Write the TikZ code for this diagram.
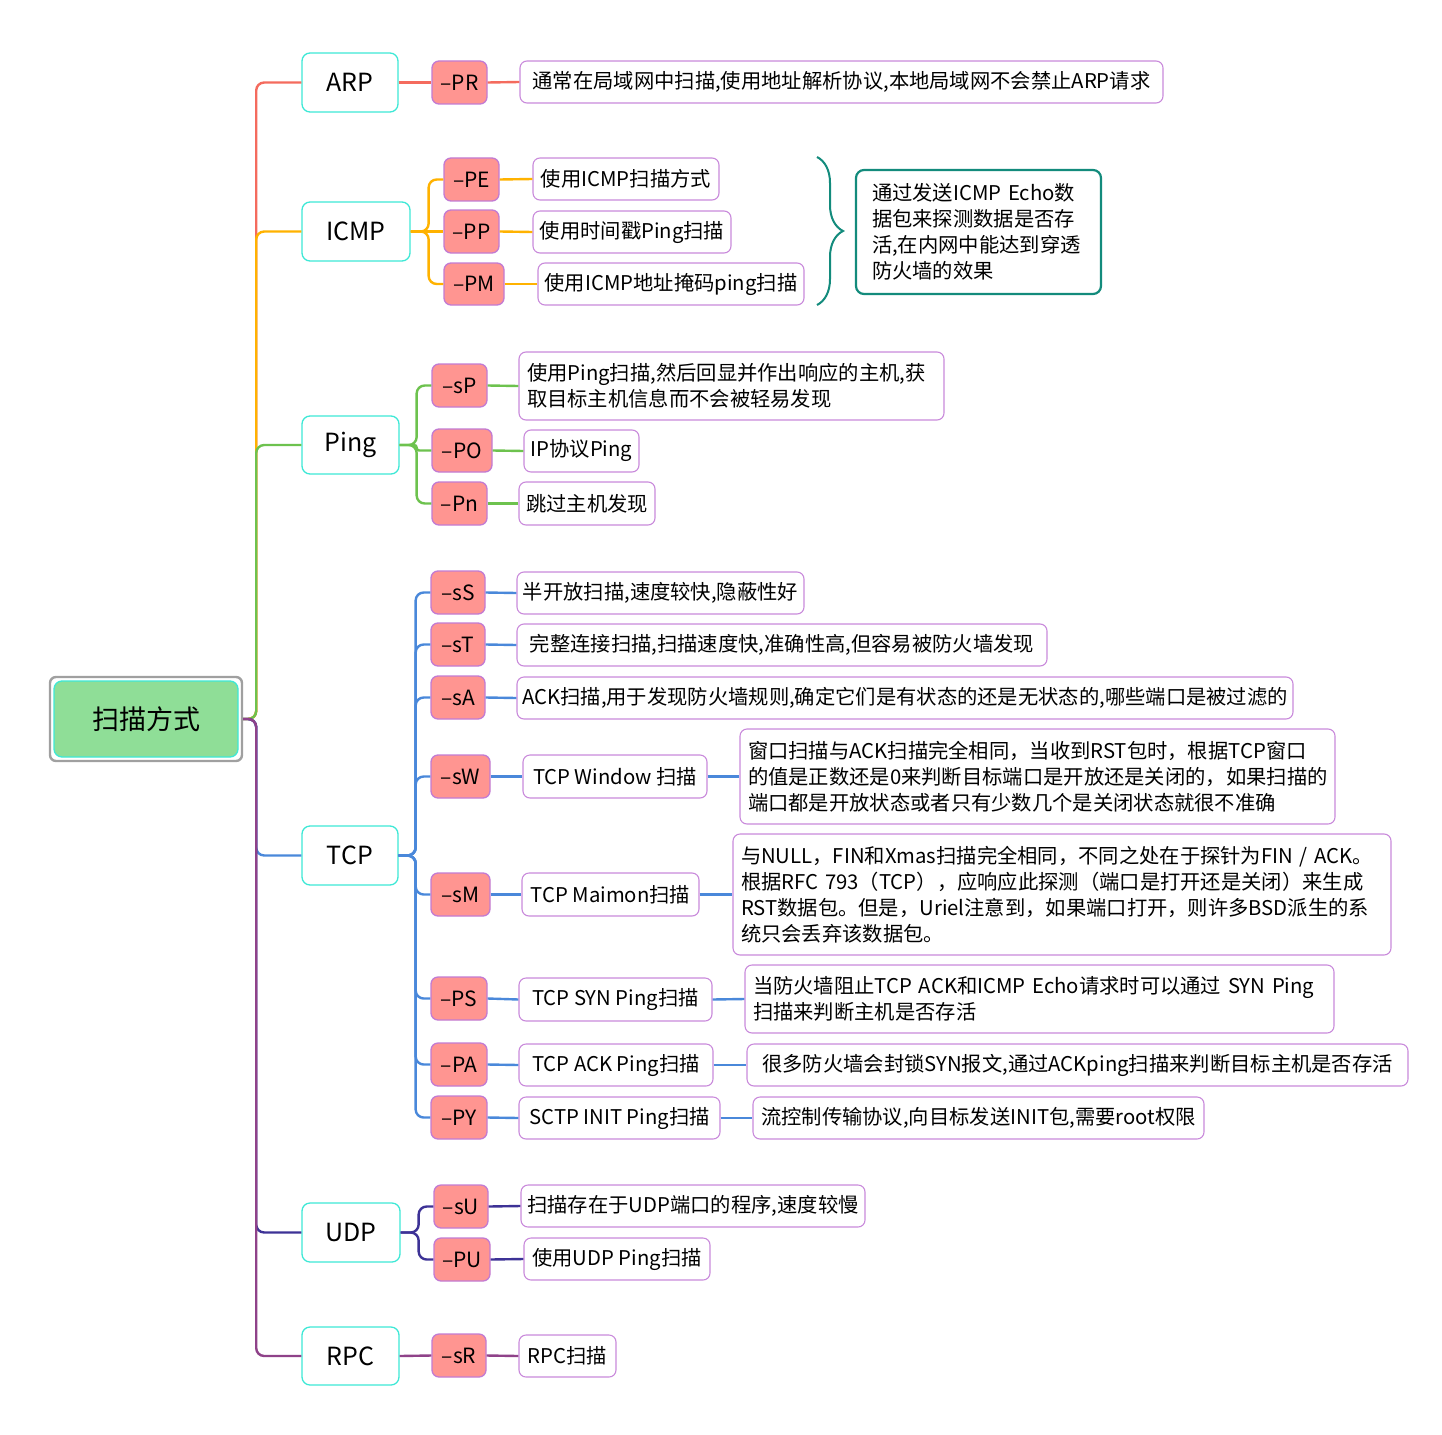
\documentclass[tikz,border=0pt]{standalone}
\usepackage{fontspec}
\setmainfont{Noto Sans CJK SC}
\usetikzlibrary{decorations.pathreplacing}

\definecolor{arpc}{HTML}{F46B5E}
\definecolor{icmpc}{HTML}{FFB200}
\definecolor{pingc}{HTML}{6DC24E}
\definecolor{tcpc}{HTML}{4A88DA}
\definecolor{udpc}{HTML}{3D3296}
\definecolor{rpcc}{HTML}{8F4289}
\definecolor{topicline}{HTML}{3EE8D6}
\definecolor{optfill}{HTML}{FF9591}
\definecolor{optline}{HTML}{C27BD3}
\definecolor{descline}{HTML}{C98ADB}
\definecolor{rootfill}{HTML}{8FDE97}
\definecolor{rootframe}{HTML}{A0A0A0}
\definecolor{sumline}{HTML}{138B7C}

\begin{document}
\begin{tikzpicture}[x=1pt,y=-1pt,
  rootouter/.style={draw=rootframe, line width=2.4pt, rounded corners=6pt},
  rootnode/.style={draw=topicline, fill=rootfill, line width=1.3pt, rounded corners=8pt,
    font=\fontsize{27}{32}\selectfont},
  topic/.style={draw=topicline, fill=white, line width=1.3pt, rounded corners=8pt,
    inner sep=0pt, font=\fontsize{25}{30}\selectfont},
  opt/.style={draw=optline, fill=optfill, line width=1.3pt, rounded corners=7pt,
    inner sep=0pt, font=\fontsize{21}{25}\selectfont},
  desc/.style={draw=descline, fill=white, line width=1.1pt, rounded corners=7pt,
    inner xsep=4pt, inner ysep=0pt, font=\fontsize{20.3}{26}\selectfont},
  mdesc/.style={desc, align=left, inner xsep=8pt},
  summary/.style={draw=sumline, fill=white, line width=2.2pt, rounded corners=8pt,
    align=left, inner xsep=16pt, font=\fontsize{20.3}{26}\selectfont},
  link/.style={line width=2.4pt, rounded corners=8pt},
  bracket/.style={draw=sumline, line width=2pt, decorate,
    decoration={brace, amplitude=26pt}}
]
\useasboundingbox (0,0) rectangle (1442,1434);

% central topic
\node[rootouter, minimum width=192, minimum height=84] (rootbox) at (146,719) {};
\node[rootnode, minimum width=184, minimum height=76] (root) at (146,719) {扫描方式};

% first-level topics
\node[topic, minimum width=96,  minimum height=59] (arp)  at (350,82.5)   {ARP};
\node[topic, minimum width=108, minimum height=59] (icmp) at (356,231.5)  {ICMP};
\node[topic, minimum width=97,  minimum height=58] (ping) at (350.5,445)  {Ping};
\node[topic, minimum width=96,  minimum height=59] (tcp)  at (350,855.5)  {TCP};
\node[topic, minimum width=98,  minimum height=59] (udp)  at (351,1232.5) {UDP};
\node[topic, minimum width=97,  minimum height=58] (rpc)  at (350.5,1356) {RPC};

% options
\node[opt, minimum width=55, minimum height=43] (oPR) at (459.5,82.5)  {–PR};
\node[opt, minimum width=55, minimum height=43] (oPE) at (471.5,179.5) {–PE};
\node[opt, minimum width=55, minimum height=43] (oPP) at (471.5,231.5) {–PP};
\node[opt, minimum width=60, minimum height=42] (oPM) at (474,284)     {–PM};
\node[opt, minimum width=55, minimum height=43] (osP) at (459.5,385.5) {–sP};
\node[opt, minimum width=60, minimum height=43] (oPO) at (462,450.5)   {–PO};
\node[opt, minimum width=55, minimum height=43] (oPn) at (459.5,503.5) {–Pn};
\node[opt, minimum width=54, minimum height=43] (osS) at (458,592.5)   {–sS};
\node[opt, minimum width=54, minimum height=43] (osT) at (458,644.5)   {–sT};
\node[opt, minimum width=54, minimum height=43] (osA) at (458,697.5)   {–sA};
\node[opt, minimum width=59, minimum height=43] (osW) at (460.5,776.5) {–sW};
\node[opt, minimum width=59, minimum height=43] (osM) at (460.5,894.5) {–sM};
\node[opt, minimum width=56, minimum height=43] (oPS) at (459,998.5)   {–PS};
\node[opt, minimum width=56, minimum height=43] (oPA) at (459,1064.5)  {–PA};
\node[opt, minimum width=56, minimum height=43] (oPY) at (459,1117.5)  {–PY};
\node[opt, minimum width=54, minimum height=43] (osU) at (461,1206.5)  {–sU};
\node[opt, minimum width=56, minimum height=43] (oPU) at (462,1259.5)  {–PU};
\node[opt, minimum width=54, minimum height=43] (osR) at (459,1355.5)  {–sR};

% descriptions
\node[desc, minimum width=643, minimum height=42] (dPR) at (841.5,82) {通常在局域网中扫描,使用地址解析协议,本地局域网不会禁止ARP请求};
\node[desc, minimum width=186, minimum height=42] (dPE) at (626,179) {使用ICMP扫描方式};
\node[desc, minimum width=198, minimum height=42] (dPP) at (632,232) {使用时间戳Ping扫描};
\node[desc, minimum width=266, minimum height=42] (dPM) at (671,284) {使用ICMP地址掩码ping扫描};
\node[summary, text width=213, minimum height=124] (sum) at (978.5,232)
  {通过发送ICMP Echo数\\据包来探测数据是否存\\活,在内网中能达到穿透\\防火墙的效果};
\node[mdesc, text width=409, minimum height=68] (dsP) at (731.5,386)
  {使用Ping扫描,然后回显并作出响应的主机,获\\取目标主机信息而不会被轻易发现};
\node[desc, minimum width=115, minimum height=42] (dPO) at (581.5,451) {IP协议Ping};
\node[desc, minimum width=136, minimum height=43] (dPn) at (587,503.5) {跳过主机发现};
\node[desc, minimum width=287, minimum height=42] (dsS) at (660.5,593) {半开放扫描,速度较快,隐蔽性好};
\node[desc, minimum width=530, minimum height=42] (dsT) at (782,645) {完整连接扫描,扫描速度快,准确性高,但容易被防火墙发现};
\node[desc, minimum width=776, minimum height=42] (dsA) at (905,698) {ACK扫描,用于发现防火墙规则,确定它们是有状态的还是无状态的,哪些端口是被过滤的};
\node[desc, minimum width=184, minimum height=43] (mW) at (615,776.5) {TCP Window 扫描};
\node[mdesc, text width=579, minimum height=95] (dW) at (1037.5,776.5)
  {窗口扫描与ACK扫描完全相同，当收到RST包时，根据TCP窗口\\的值是正数还是0来判断目标端口是开放还是关闭的，如果扫描的\\端口都是开放状态或者只有少数几个是关闭状态就很不准确};
\node[desc, minimum width=177, minimum height=43] (mM) at (610.5,894.5) {TCP Maimon扫描};
\node[mdesc, text width=642, minimum height=121] (dM) at (1062,894.5)
  {与NULL，FIN和Xmas扫描完全相同，不同之处在于探针为FIN / ACK。\\根据RFC 793（TCP），应响应此探测（端口是打开还是关闭）来生成\\RST数据包。但是，Uriel注意到，如果端口打开，则许多BSD派生的系\\统只会丢弃该数据包。};
\node[desc, minimum width=193, minimum height=43] (mS) at (615.5,999.5) {TCP SYN Ping扫描};
\node[mdesc, text width=573, minimum height=68] (dS) at (1039.5,999)
  {当防火墙阻止TCP ACK和ICMP Echo请求时可以通过 SYN Ping\\扫描来判断主机是否存活};
\node[desc, minimum width=194, minimum height=42] (mA) at (616,1065) {TCP ACK Ping扫描};
\node[desc, minimum width=661, minimum height=42] (dA) at (1077.5,1065) {很多防火墙会封锁SYN报文,通过ACKping扫描来判断目标主机是否存活};
\node[desc, minimum width=201, minimum height=42] (mY) at (619.5,1118) {SCTP INIT Ping扫描};
\node[desc, minimum width=451, minimum height=42] (dY) at (978.5,1118) {流控制传输协议,向目标发送INIT包,需要root权限};
\node[desc, minimum width=344, minimum height=42] (dsU) at (693,1206) {扫描存在于UDP端口的程序,速度较慢};
\node[desc, minimum width=186, minimum height=42] (dPU) at (617,1259) {使用UDP Ping扫描};
\node[desc, minimum width=97,  minimum height=42] (dsR) at (567.5,1356) {RPC扫描};

% summary bracket over the ICMP options
\coordinate (brtop) at (817,157);
\coordinate (brbot) at (817,305);
\draw[bracket] (brtop) -- (brbot);

% trunk: central topic to first-level topics
\draw[link, arpc]  (rootbox.east) -- ++(13,0) |- (arp.west);
\draw[link, icmpc] (rootbox.east) -- ++(13,0) |- (icmp.west);
\draw[link, pingc] (rootbox.east) -- ++(13,0) |- (ping.west);
\draw[link, tcpc]  (rootbox.east) -- ++(13,0) |- (tcp.west);
\draw[link, udpc]  (rootbox.east) -- ++(13,0) |- (udp.west);
\draw[link, rpcc]  (rootbox.east) -- ++(13,0) |- (rpc.west);

% ARP branch
\draw[link, arpc] (arp.east) -- (oPR.west);
\draw[link, arpc] (oPR.east) -- (dPR.west);

% ICMP branch (third value: corner radius, small where the step is short)
\foreach \o/\d/\r in {oPE/dPE/8, oPP/dPP/0, oPM/dPM/8} {
  \draw[link, icmpc, rounded corners=\r pt] (icmp.east) -- ++(18,0) |- (\o.west);
  \draw[link, icmpc] (\o.east) -- (\d.west);
}

% Ping branch
\foreach \o/\d/\r in {osP/dsP/8, oPO/dPO/2.5, oPn/dPn/8} {
  \draw[link, pingc, rounded corners=\r pt] (ping.east) -- ++(17,0) |- (\o.west);
  \draw[link, pingc] (\o.east) -- (\d.west);
}

% TCP branch
\foreach \o/\d in {osS/dsS, osT/dsT, osA/dsA, osW/mW, osM/mM, oPS/mS, oPA/mA, oPY/mY} {
  \draw[link, tcpc] (tcp.east) -- ++(17,0) |- (\o.west);
  \draw[link, tcpc] (\o.east) -- (\d.west);
}
\foreach \m/\d in {mW/dW, mM/dM, mS/dS, mA/dA, mY/dY} {
  \draw[link, tcpc] (\m.east) -- (\d.west);
}

% UDP branch
\foreach \o/\d in {osU/dsU, oPU/dPU} {
  \draw[link, udpc] (udp.east) -- ++(18,0) |- (\o.west);
  \draw[link, udpc] (\o.east) -- (\d.west);
}

% RPC branch
\draw[link, rpcc] (rpc.east) -- (osR.west);
\draw[link, rpcc] (osR.east) -- (dsR.west);

\end{tikzpicture}
\end{document}
